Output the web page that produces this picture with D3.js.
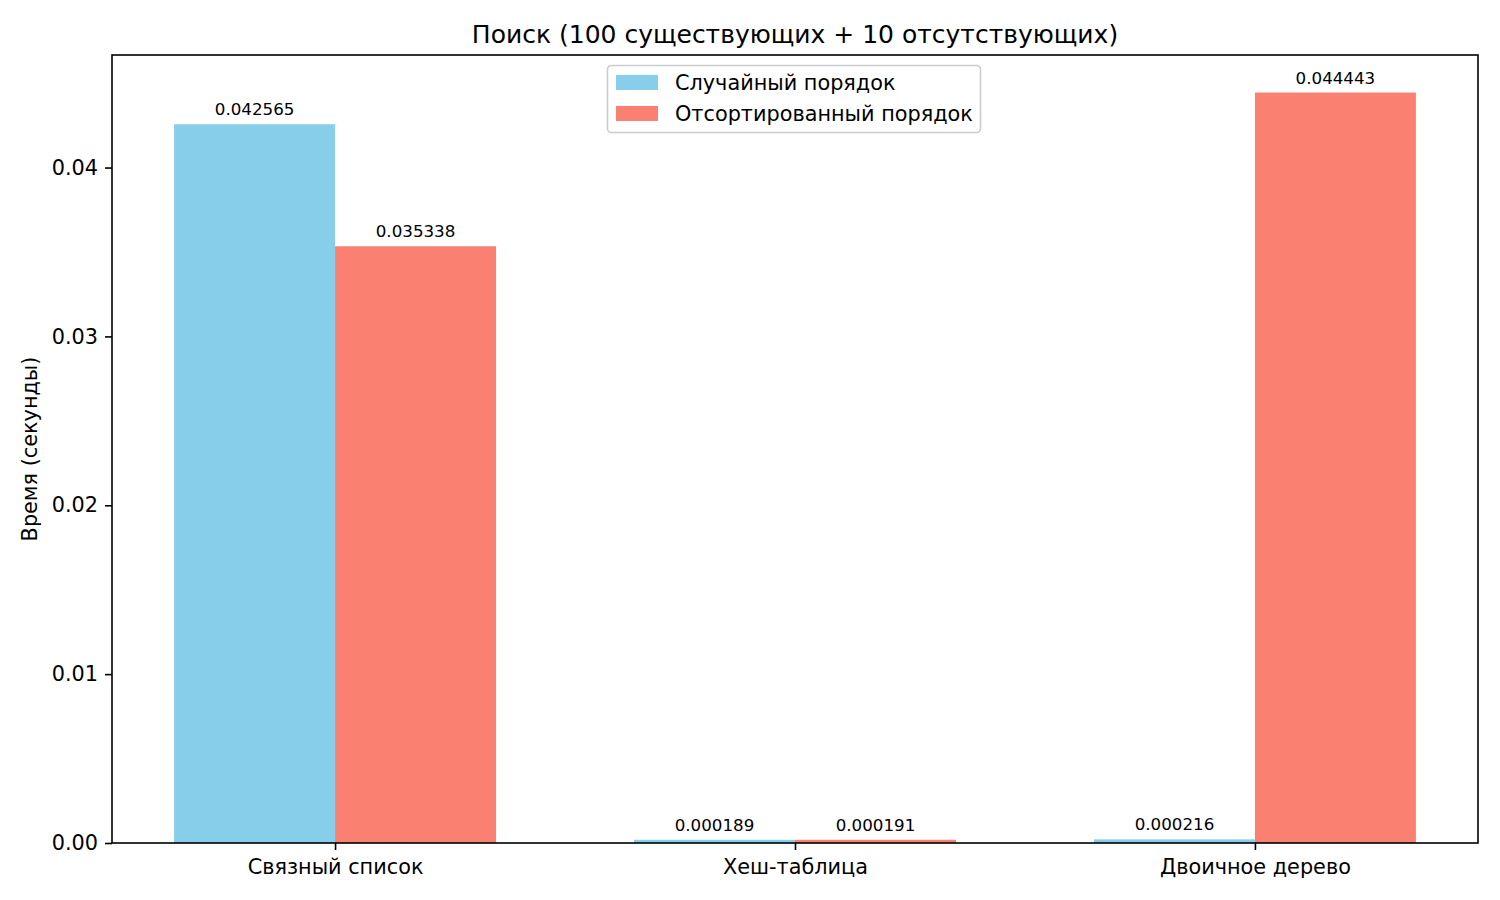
<!DOCTYPE html>
<html><head><meta charset="utf-8">
<script src="https://cdn.jsdelivr.net/npm/d3@7"></script>
<style>body{margin:0;background:#fff;} text{font-family:"DejaVu Sans",sans-serif;}</style>
</head><body>
<svg id="chart" width="1500" height="900"></svg>
<script>
const categories = ["Связный список", "Хеш-таблица", "Двоичное дерево"];
const seriesNames = ["Случайный порядок", "Отсортированный порядок"];
const randomValues = [0.042565, 0.000189, 0.000216];
const sortedValues = [0.035338, 0.000191, 0.044443];
const seriesColors = ["#87CEEB", "#FA8072"];
const yTicks = [0, 0.01, 0.02, 0.03, 0.04];
const title = "Поиск (100 существующих + 10 отсутствующих)";
const yLabel = "Время (секунды)";

const svg = d3.select("#chart");
const L = 112, R = 1478, T = 55, B = 843;
const barW = 0.35;
const x = d3.scaleLinear().domain([-0.485, 2.485]).range([L, R]);
const yMax = d3.max([...randomValues, ...sortedValues]) * 1.05;
const y = d3.scaleLinear().domain([0, yMax]).range([B, T]);

const series = [randomValues, sortedValues];
series.forEach((vals, si) => {
  const g = svg.append("g");
  vals.forEach((v, i) => {
    const x0 = i + (si === 0 ? -barW : 0);
    g.append("rect").attr("x", x(x0)).attr("width", x(x0 + barW) - x(x0))
      .attr("y", y(v)).attr("height", y(0) - y(v)).attr("fill", seriesColors[si]);
    g.append("text").attr("x", x(x0 + barW / 2)).attr("y", y(v) - 9)
      .attr("text-anchor", "middle").attr("font-size", 16.7).attr("fill", "#000")
      .text(v.toFixed(6));
  });
});

// frame
svg.append("rect").attr("x", L).attr("y", T).attr("width", R - L).attr("height", B - T)
  .attr("fill", "none").attr("stroke", "#000").attr("stroke-width", 1.6);

// y axis
const yAxis = d3.axisLeft(y).tickValues(yTicks).tickFormat(d3.format(".2f")).tickSize(7).tickPadding(7);
const ga = svg.append("g").attr("transform", `translate(${L},0)`).call(yAxis);
ga.select(".domain").remove();
ga.selectAll("line").attr("stroke", "#000").attr("stroke-width", 1.6);
ga.selectAll("text").attr("font-size", 20.8).attr("fill", "#000").attr("font-family", "DejaVu Sans");

// x axis
const xAxis = d3.axisBottom(x).tickValues(categories.map((c, i) => i)).tickFormat(i => categories[i]).tickSize(7).tickPadding(9);
const gx = svg.append("g").attr("transform", `translate(0,${B})`).call(xAxis);
gx.select(".domain").remove();
gx.selectAll("line").attr("stroke", "#000").attr("stroke-width", 1.6);
gx.selectAll("text").attr("font-size", 20.8).attr("fill", "#000").attr("font-family", "DejaVu Sans");

// title
svg.append("text").attr("x", (L + R) / 2).attr("y", 43).attr("text-anchor", "middle")
  .attr("font-size", 25).text(title);
// y label
svg.append("text").attr("transform", `translate(37,${(T + B) / 2}) rotate(-90)`)
  .attr("text-anchor", "middle").attr("font-size", 20.8).text(yLabel);

// legend
const lg = svg.append("g");
lg.append("rect").attr("x", 607.5).attr("y", 65.5).attr("width", 373).attr("height", 67)
  .attr("rx", 4).attr("fill", "#fff").attr("fill-opacity", 0.8).attr("stroke", "#ccc").attr("stroke-width", 1.6);
seriesNames.forEach((n, i) => {
  const yy = 82.5 + i * 31;
  lg.append("rect").attr("x", 616).attr("y", yy - 7.5).attr("width", 42).attr("height", 15).attr("fill", seriesColors[i]);
  lg.append("text").attr("x", 675).attr("y", yy + 7.5).attr("font-size", 20.8).text(n);
});
</script>
</body></html>
